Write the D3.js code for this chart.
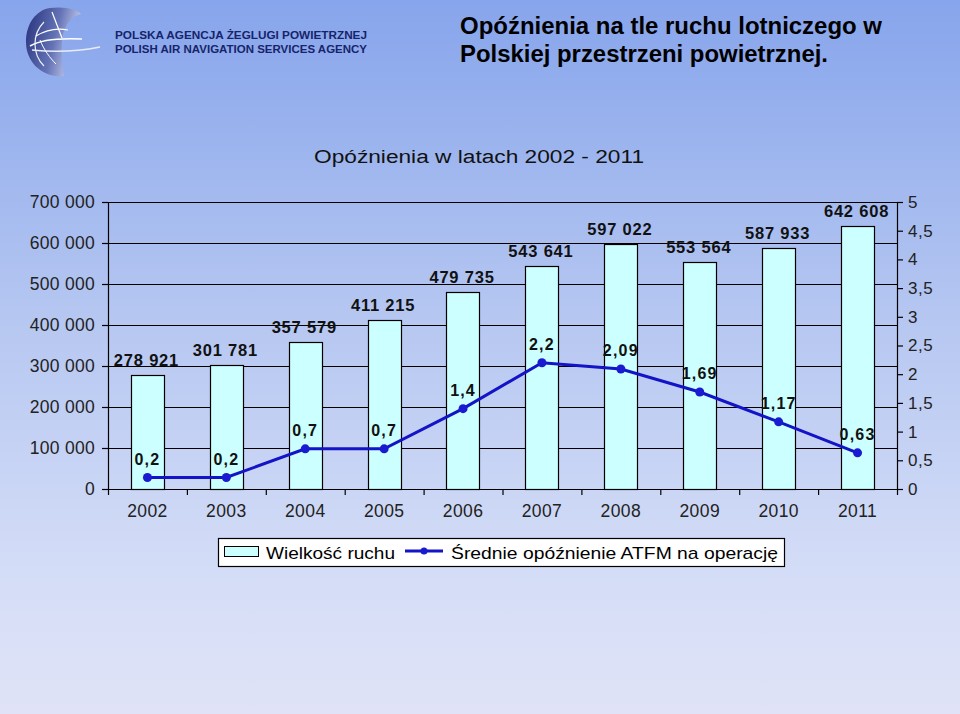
<!DOCTYPE html>
<html><head><meta charset="utf-8">
<script src="https://cdn.jsdelivr.net/npm/d3@7"></script>
<style>html,body{margin:0;padding:0;}svg{display:block;font-family:Arial,"Liberation Sans",sans-serif;}</style>
</head><body>
<script>
const years = ["2002","2003","2004","2005","2006","2007","2008","2009","2010","2011"];
const traffic = [278921, 301781, 357579, 411215, 479735, 543641, 597022, 553564, 587933, 642608];
const delay = [0.2, 0.2, 0.7, 0.7, 1.4, 2.2, 2.09, 1.69, 1.17, 0.63];
const leftTicks = [0,100000,200000,300000,400000,500000,600000,700000];
const rightTicks = [0,0.5,1,1.5,2,2.5,3,3.5,4,4.5,5];
const seriesNames = ["Wielkość ruchu","Średnie opóźnienie ATFM na operację"];

const W=960,H=714;
const svg=d3.select("body").append("svg").attr("width",W).attr("height",H);
const defs=svg.append("defs");
const bg=defs.append("linearGradient").attr("id","bg").attr("x1",0).attr("y1",0).attr("x2",0).attr("y2",1);
bg.append("stop").attr("offset","0%").attr("stop-color","#87a5ec");
bg.append("stop").attr("offset","45%").attr("stop-color","#b6c7f1");
bg.append("stop").attr("offset","80%").attr("stop-color","#d4ddf7");
bg.append("stop").attr("offset","100%").attr("stop-color","#e0e3f7");
svg.append("rect").attr("width",W).attr("height",H).attr("fill","url(#bg)");

// logo
const lg=defs.append("linearGradient").attr("id","lg").attr("x1",0).attr("y1",0).attr("x2",1).attr("y2",0.3);
lg.append("stop").attr("offset","0%").attr("stop-color","#24307a");
lg.append("stop").attr("offset","60%").attr("stop-color","#6473b6");
lg.append("stop").attr("offset","100%").attr("stop-color","#c6cdeb");
const logo=svg.append("g");
logo.append("path").attr("d","M50,8 C66,6 78,10 81,14 C72,16 64,24 62,40 C61,56 62,68 64,76 C42,78 26,62 26,42 C26,24 36,10 50,8 Z").attr("fill","url(#lg)");
logo.append("path").attr("d","M44,22 C32,34 32,54 44,66").attr("fill","none").attr("stroke","#fff").attr("stroke-width",1.2).attr("opacity",0.9);
logo.append("path").attr("d","M52,12 L62,38").attr("stroke","#fff").attr("stroke-width",1.2);
logo.append("path").attr("d","M36,36 C46,30 58,28 68,30").attr("fill","none").attr("stroke","#fff").attr("stroke-width",1.2);
logo.append("path").attr("d","M30,46 C40,40 60,38 82,39").attr("fill","none").attr("stroke","#fff").attr("stroke-width",1.5);
logo.append("path").attr("d","M32,50 C50,52 75,52 100,47").attr("fill","none").attr("stroke","#e8ecf8").attr("stroke-width",1.5);
logo.append("path").attr("d","M40,40 C44,50 50,58 56,64").attr("fill","none").attr("stroke","#fff").attr("stroke-width",1);

svg.append("text").attr("x",115).attr("y",39).attr("font-size",11.5).attr("font-weight","bold").attr("fill","#16246a")
  .attr("textLength",252).attr("lengthAdjust","spacingAndGlyphs").text("POLSKA AGENCJA ŻEGLUGI POWIETRZNEJ");
svg.append("text").attr("x",115).attr("y",53).attr("font-size",11.5).attr("font-weight","bold").attr("fill","#16246a")
  .attr("textLength",252).attr("lengthAdjust","spacingAndGlyphs").text("POLISH AIR NAVIGATION SERVICES AGENCY");
svg.append("text").attr("x",460).attr("y",34).attr("font-size",23).attr("font-weight","bold").attr("fill","#000")
  .attr("textLength",422).attr("lengthAdjust","spacingAndGlyphs").text("Opóźnienia na tle ruchu lotniczego w");
svg.append("text").attr("x",460).attr("y",62).attr("font-size",23).attr("font-weight","bold").attr("fill","#000")
  .attr("textLength",368).attr("lengthAdjust","spacingAndGlyphs").text("Polskiej przestrzeni powietrznej.");

svg.append("text").attr("x",479).attr("y",163).attr("text-anchor","middle").attr("font-size",18).attr("fill","#111")
  .attr("textLength",330).attr("lengthAdjust","spacingAndGlyphs").text("Opóźnienia w latach 2002 - 2011");

const L=108,R=897,T=202,B=489;
const x=d3.scaleBand().domain(years).range([L,R]).paddingInner(0.58).paddingOuter(0.29);
const y=d3.scaleLinear().domain([0,700000]).range([B,T]);
const y2=d3.scaleLinear().domain([0,5]).range([B,T]);
const fmtK=v=>d3.format(",")(v).replace(/,/g," ");
const fmtD=v=>String(v).replace(".",",");

// gridlines
svg.append("g").selectAll("line").data(leftTicks.slice(1)).join("line")
  .attr("x1",L).attr("x2",R).attr("y1",d=>Math.round(y(d))+0.5).attr("y2",d=>Math.round(y(d))+0.5)
  .attr("stroke","#000").attr("stroke-width",1);

// bars
svg.append("g").selectAll("rect").data(traffic).join("rect")
  .attr("x",(d,i)=>Math.round(x(years[i]))+0.5).attr("y",d=>Math.round(y(d))+0.5)
  .attr("width",Math.round(x.bandwidth())).attr("height",d=>B-Math.round(y(d)))
  .attr("fill","#ccffff").attr("stroke","#000").attr("stroke-width",1.2);

// axes
const gl=svg.append("g").attr("transform",`translate(${L},0)`)
  .call(d3.axisLeft(y).tickValues(leftTicks).tickFormat(fmtK).tickSize(6).tickPadding(7));
const gr=svg.append("g").attr("transform",`translate(${R},0)`)
  .call(d3.axisRight(y2).tickValues(rightTicks).tickFormat(fmtD).tickSize(6).tickPadding(5));
const xb=d3.scaleLinear().domain([0,10]).range([L,R]);
const gb=svg.append("g").attr("transform",`translate(0,${B})`)
  .call(d3.axisBottom(xb).tickValues(d3.range(0,11)).tickFormat("").tickSize(6).tickSizeOuter(0));
[gl,gr,gb].forEach(g=>{g.selectAll("path,line").attr("stroke","#000").attr("stroke-width",1.2);
  g.selectAll("text").attr("fill","#222").attr("font-family","Arial,'Liberation Sans',sans-serif");});
gl.selectAll("text").attr("font-size",17.5).attr("letter-spacing",0.3);
gr.selectAll("text").attr("font-size",17).attr("letter-spacing",0.5);
gb.select(".domain").attr("d",`M${L},0.5H${R}`);
svg.append("g").selectAll("text").data(years).join("text")
  .attr("x",d=>x(d)+x.bandwidth()/2).attr("y",517).attr("text-anchor","middle")
  .attr("font-size",17.5).attr("letter-spacing",0.4).attr("fill","#222").text(d=>d);

// bar labels
svg.append("g").selectAll("text").data(traffic).join("text")
  .attr("x",(d,i)=>x(years[i])+x.bandwidth()/2-1).attr("y",d=>y(d)-9)
  .attr("text-anchor","middle").attr("font-size",16.5).attr("font-weight","bold").attr("letter-spacing",0.8)
  .attr("fill","#111").text(fmtK);

// line
const cx=(d,i)=>x(years[i])+x.bandwidth()/2;
svg.append("path").datum(delay)
  .attr("d",d3.line().x(cx).y(d=>y2(d)))
  .attr("fill","none").attr("stroke","#1313c8").attr("stroke-width",3);
svg.append("g").selectAll("circle").data(delay).join("circle")
  .attr("cx",cx).attr("cy",d=>y2(d)).attr("r",4.5).attr("fill","#1a1ad0");
svg.append("g").selectAll("text").data(delay).join("text")
  .attr("x",cx).attr("y",d=>y2(d)-13).attr("text-anchor","middle")
  .attr("font-size",16).attr("font-weight","bold").attr("letter-spacing",1.2).attr("fill","#111").text(fmtD);

// legend
const lgd=svg.append("g");
lgd.append("rect").attr("x",218.5).attr("y",538.5).attr("width",566).attr("height",28).attr("fill","#fff").attr("stroke","#000").attr("stroke-width",1.2);
lgd.append("rect").attr("x",224.5).attr("y",546.5).attr("width",34).attr("height",10).attr("fill","#ccffff").attr("stroke","#000");
lgd.append("text").attr("x",266).attr("y",559).attr("font-size",17).attr("fill","#000")
  .attr("textLength",129).attr("lengthAdjust","spacingAndGlyphs").text(seriesNames[0]);
lgd.append("line").attr("x1",405).attr("x2",443).attr("y1",551).attr("y2",551).attr("stroke","#1313c8").attr("stroke-width",3);
lgd.append("circle").attr("cx",424).attr("cy",551).attr("r",3.5).attr("fill","#1a1ad0");
lgd.append("text").attr("x",451).attr("y",559).attr("font-size",17).attr("fill","#000")
  .attr("textLength",327).attr("lengthAdjust","spacingAndGlyphs").text(seriesNames[1]);
</script>
</body></html>
